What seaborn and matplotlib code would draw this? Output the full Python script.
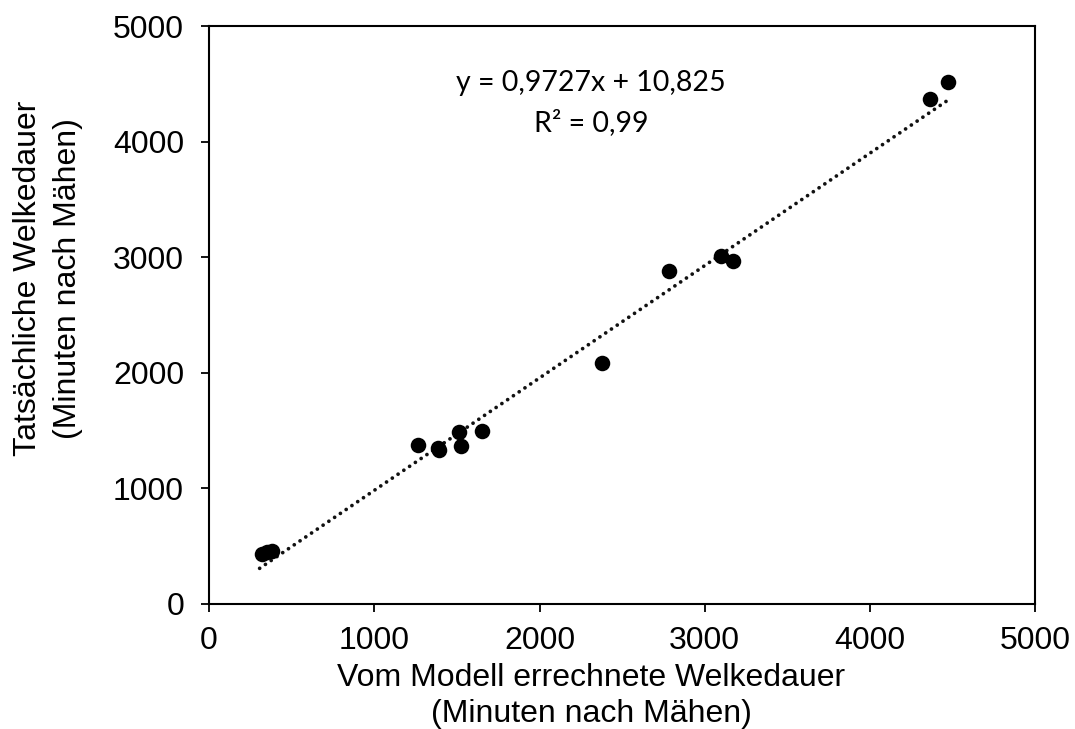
import numpy as np
import pandas as pd
import matplotlib.pyplot as plt
import seaborn as sns

# --- Daten ---
modell = [321, 351, 381, 1265, 1386, 1390, 1513, 1525, 1653, 2379, 2785, 3099, 3172, 4364, 4473]
tatsaechlich = [433, 450, 458, 1375, 1350, 1330, 1488, 1367, 1497, 2085, 2881, 3010, 2967, 4368, 4515]
steigung = 0.9727
achsenabschnitt = 10.825
r2_text = "R² = 0,99"
gleichung_text = "y = 0,9727x + 10,825"
ticks = [0, 1000, 2000, 3000, 4000, 5000]

df = pd.DataFrame({"modell": modell, "tatsaechlich": tatsaechlich})
x_fit = np.array([min(modell) - 15, max(modell)])
df_fit = pd.DataFrame({"x": x_fit, "y": steigung * x_fit + achsenabschnitt})

sns.set_style("white")
plt.rcParams["font.family"] = ["Liberation Sans", "DejaVu Sans"]
plt.rcParams["text.color"] = "black"
plt.rcParams["axes.labelcolor"] = "black"

fig = plt.figure(figsize=(10.75, 7.29), dpi=100)
ax = fig.add_axes([0.1945, 0.1715, 0.7685, 0.7925])

# Trendlinie (gepunktet) und Messpunkte
sns.lineplot(data=df_fit, x="x", y="y", ax=ax, color="#111111",
             linestyle=(0, (0.01, 1.85)), linewidth=2.7,
             dash_capstyle="round", solid_capstyle="round")
sns.scatterplot(data=df, x="modell", y="tatsaechlich", ax=ax, color="black",
                s=125, edgecolor="black", linewidth=0, zorder=3)

ax.set_xlim(0, 5000)
ax.set_ylim(0, 5000)
ax.set_xticks(ticks)
ax.set_yticks(ticks)
ax.tick_params(axis="both", labelsize=23, direction="out", length=6, width=1.3,
               left=True, bottom=True, colors="black")
ax.tick_params(axis="y", pad=12)
ax.tick_params(axis="x", pad=10)
for s in ax.spines.values():
    s.set_color("black")
    s.set_linewidth(1.5)

ax.set_xlabel("Vom Modell errechnete Welkedauer\n(Minuten nach Mähen)", fontsize=23,
              linespacing=1.25, color="black")
ax.set_ylabel("Tatsächliche Welkedauer\n(Minuten nach Mähen)", fontsize=23,
              linespacing=1.4, color="black")
ax.xaxis.set_label_coords(0.4625, -0.103)
ax.yaxis.set_label_coords(-0.153, 0.564)

ax.text(0.462, 0.902, gleichung_text, transform=ax.transAxes, ha="center", va="center",
        fontsize=20.5, color="black", family=["Lato", "DejaVu Sans"])
ax.text(0.462, 0.833, r2_text, transform=ax.transAxes, ha="center", va="center",
        fontsize=20.5, color="black", family=["Lato", "DejaVu Sans"])

fig.savefig("out.png", dpi=100)
